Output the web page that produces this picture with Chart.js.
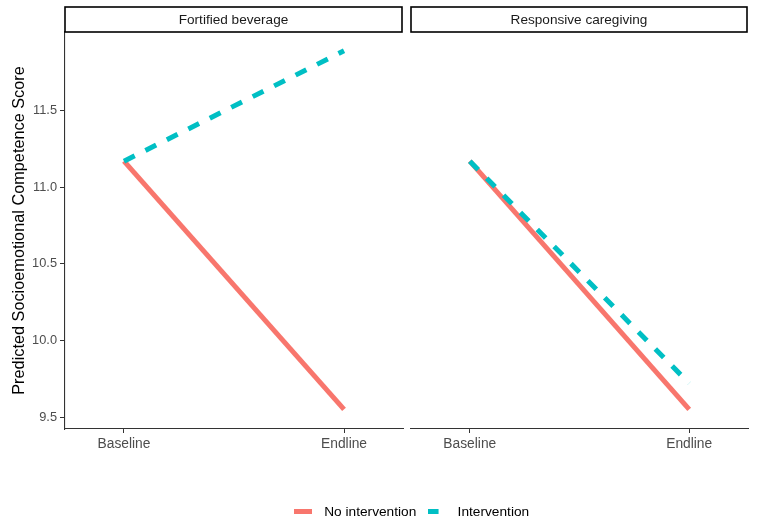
<!DOCTYPE html>
<html>
<head>
<meta charset="utf-8">
<script src="https://cdn.jsdelivr.net/npm/chart.js@4.4.1/dist/chart.umd.min.js"></script>
<style>
  html, body { margin: 0; padding: 0; background: #fff; overflow: hidden; }
  #wrap { position: relative; width: 759px; height: 526px; overflow: hidden; }
  canvas { position: absolute; }
</style>
</head>
<body>
<div id="wrap">
  <canvas id="LeftPanel" width="405" height="490" style="left:0;top:0"></canvas>
  <canvas id="RightPanel" width="354" height="490" style="left:405px;top:0"></canvas>
  <canvas id="LegendBox" width="600" height="60" style="left:109px;top:499px"></canvas>
</div>
<script>
(function () {
  "use strict";

  // Data
  const categories = ['Baseline', 'Endline'];
  const panels     = ['Fortified beverage', 'Responsive caregiving'];
  const groups     = ['No intervention', 'Intervention'];
  const fortNoInt  = [11.17, 9.55];
  const fortInt    = [11.17, 11.89];
  const careNoInt  = [11.17, 9.55];
  const careInt    = [11.17, 9.72];
  const yTicks     = [9.5, 10.0, 10.5, 11.0, 11.5];
  const yRange     = [9.422, 12.013];

  // Colors
  const red  = '#F8766D';
  const cyan = '#00BFC4';
  const font = '"Liberation Sans", Arial, sans-serif';

  function points(values) {
    return values.map(function (v, i) { return { x: i, y: v }; });
  }

  // facet strip on top of each panel
  const stripPlugin = {
    id: 'strip',
    afterDraw(chart, args, opts) {
      const ctx = chart.ctx;
      const a = chart.chartArea;
      const w = a.right - a.left - 1;
      ctx.save();
      ctx.fillStyle = '#fff';
      ctx.fillRect(a.left, 7, w, 25);
      ctx.strokeStyle = '#000';
      ctx.lineWidth = 1.6;
      ctx.strokeRect(a.left, 7, w, 25);
      ctx.fillStyle = '#1a1a1a';
      ctx.font = '13.6px ' + font;
      ctx.textAlign = 'center';
      ctx.textBaseline = 'middle';
      ctx.fillText(opts.text, a.left + w / 2, 20);
      ctx.restore();
    }
  };

  function panelDatasets(noInt, inter) {
    return [{
      label: groups[0],
      data: points(noInt),
      borderColor: red,
      borderWidth: 5,
      borderCapStyle: 'butt',
      pointRadius: 0,
      order: 2
    }, {
      label: groups[1],
      data: points(inter),
      borderColor: cyan,
      borderWidth: 5,
      borderDash: [12, 12],
      borderCapStyle: 'butt',
      pointRadius: 0,
      order: 1
    }];
  }

  function panelOptions(showY, padLeft, padRight, stripText) {
    return {
      responsive: false,
      animation: false,
      layout: { padding: { top: 32, left: padLeft, right: padRight, bottom: 0 } },
      scales: {
        x: {
          type: 'linear',
          min: -0.268,
          max: 1.268,
          afterBuildTicks: function (axis) {
            axis.ticks = categories.map(function (c, i) { return { value: i }; });
          },
          afterFit: function (axis) { axis.height = 61; },
          border: { color: '#333', width: 1.1 },
          grid: { drawOnChartArea: false, tickLength: 4, color: '#333' },
          ticks: {
            color: '#4d4d4d',
            font: { size: 13.8, family: font },
            padding: 3,
            maxRotation: 0,
            callback: function (v) { return categories[v]; }
          }
        },
        y: {
          display: showY,
          min: yRange[0],
          max: yRange[1],
          afterBuildTicks: function (axis) {
            axis.ticks = yTicks.map(function (v) { return { value: v }; });
          },
          afterFit: function (axis) { axis.width = showY ? 65 : 0; },
          border: { color: '#333', width: 1.1 },
          grid: { drawOnChartArea: false, tickLength: 5, color: '#333' },
          ticks: {
            color: '#4d4d4d',
            font: { size: 12.8, family: font },
            padding: 3,
            callback: function (v) { return v.toFixed(1); }
          },
          title: {
            display: true,
            text: 'Predicted Socioemotional Competence Score',
            color: '#000',
            font: { size: 16.3, family: font },
            padding: { top: 10, bottom: 0 }
          }
        }
      },
      plugins: {
        legend: { display: false },
        tooltip: { enabled: false },
        strip: { text: stripText }
      }
    };
  }

  const LeftPanel = new Chart(document.getElementById('LeftPanel').getContext('2d'), {
    type: 'line',
    data: { datasets: panelDatasets(fortNoInt, fortInt) },
    options: panelOptions(true, 0, 2, panels[0]),
    plugins: [stripPlugin]
  });

  const RightPanel = new Chart(document.getElementById('RightPanel').getContext('2d'), {
    type: 'line',
    data: { datasets: panelDatasets(careNoInt, careInt) },
    options: panelOptions(false, 6, 11, panels[1]),
    plugins: [stripPlugin]
  });

  // legend keys drawn as short line samples
  function keyImage(color, dash) {
    const c = document.createElement('canvas');
    c.width = 18;
    c.height = 5;
    const g = c.getContext('2d');
    g.strokeStyle = color;
    g.lineWidth = 5;
    g.setLineDash(dash);
    g.beginPath();
    g.moveTo(0, 2.5);
    g.lineTo(18, 2.5);
    g.stroke();
    return c;
  }
  const keys = [keyImage(red, []), keyImage(cyan, [11, 7])];

  const LegendBox = new Chart(document.getElementById('LegendBox').getContext('2d'), {
    type: 'line',
    data: {
      datasets: [
        { label: groups[0], data: [], borderColor: red },
        { label: groups[1], data: [], borderColor: cyan }
      ]
    },
    options: {
      responsive: false,
      animation: false,
      layout: { padding: 0 },
      scales: { x: { display: false }, y: { display: false } },
      plugins: {
        tooltip: { enabled: false },
        legend: {
          position: 'top',
          labels: {
            usePointStyle: true,
            pointStyleWidth: 28.5,
            padding: 6,
            color: '#000',
            font: { size: 13.7, family: font },
            generateLabels: function (chart) {
              return chart.data.datasets.map(function (ds, i) {
                return {
                  text: ds.label,
                  fillStyle: ds.borderColor,
                  strokeStyle: ds.borderColor,
                  lineWidth: 0,
                  pointStyle: keys[i],
                  hidden: false,
                  datasetIndex: i
                };
              });
            }
          }
        }
      }
    }
  });
})();
</script>
</body>
</html>
